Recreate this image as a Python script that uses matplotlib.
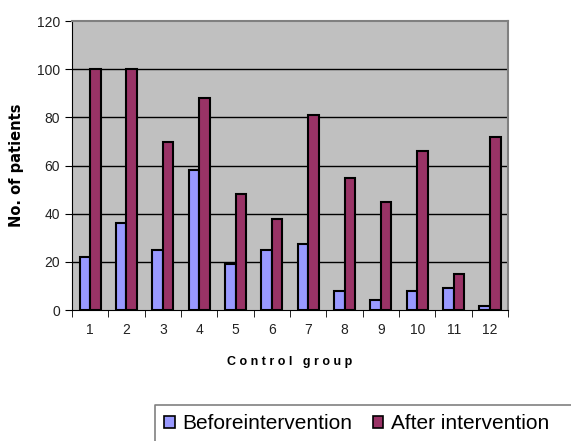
import numpy as np
import matplotlib.pyplot as plt
from matplotlib.patches import Patch
from matplotlib.lines import Line2D

plt.rcParams['font.family'] = ['Liberation Sans', 'DejaVu Sans']

# data
groups = ['1', '2', '3', '4', '5', '6', '7', '8', '9', '10', '11', '12']
before = [22, 36, 25, 58, 19, 25, 27.5, 8, 4, 8, 9, 1.5]
after = [100, 100, 70, 88, 48, 38, 81, 55, 45, 66, 15, 72]
yticks = [0, 20, 40, 60, 80, 100, 120]

c_before = '#9999FF'
c_after = '#993366'

fig = plt.figure(figsize=(5.71, 4.41), dpi=100)
ax = fig.add_axes([0.126, 0.297, 0.764, 0.655])
ax.set_facecolor('#C0C0C0')

x = np.arange(len(groups))
w = 0.29
ax.bar(x - w / 2, before, w, color=c_before, edgecolor='black', linewidth=1.5, zorder=3)
ax.bar(x + w / 2, after, w, color=c_after, edgecolor='black', linewidth=1.5, zorder=3)

ax.set_xlim(-0.5, len(groups) - 0.5)
ax.set_ylim(0, 120)
ax.set_yticks(yticks)
ax.set_yticklabels([str(v) for v in yticks], fontsize=10, color='#222222')
for v in yticks[1:-1]:
    ax.axhline(v, color='black', lw=1, zorder=1)

# category labels centred, ticks on the boundaries
ax.set_xticks(x)
ax.set_xticklabels(groups, fontsize=10, color='#222222')
ax.tick_params(axis='x', length=0, pad=9)
ax.set_xticks(np.arange(len(groups) + 1) - 0.5, minor=True)
ax.tick_params(axis='x', which='minor', length=5, direction='out', color='black')
ax.tick_params(axis='y', length=5, direction='out', color='black')

ax.spines['left'].set_color('black')
ax.spines['bottom'].set_color('black')
ax.spines['top'].set_color('#808080')
ax.spines['right'].set_color('#808080')
ax.spines['top'].set_linewidth(1.5)
ax.spines['right'].set_linewidth(1.5)

ax.set_xlabel('C o n t r o l   g r o u p', fontsize=9, fontweight='bold', labelpad=14)
ax.set_ylabel('No. of patients', fontsize=10.5, fontweight='bold', family='DejaVu Sans')
ax.yaxis.set_label_coords(-0.11, 0.5)

# legend box runs off the right and bottom edge: only top and left borders show
lx, ly = 155 / 571, 1 - 405 / 441
fig.add_artist(Line2D([lx, lx, 1.2], [-0.2, ly, ly], transform=fig.transFigure,
                      color='#808080', linewidth=1.2))
handles = [Patch(facecolor=c_before, edgecolor='black', linewidth=1.2, label='Beforeintervention'),
           Patch(facecolor=c_after, edgecolor='black', linewidth=1.2, label='After intervention')]
leg = fig.legend(handles=handles, loc='upper left', bbox_to_anchor=(lx, ly),
                 ncol=2, fontsize=15, frameon=False, borderaxespad=0,
                 handlelength=0.5, handleheight=0.5, handletextpad=0.35, columnspacing=1.0,
                 borderpad=0.45)

fig.savefig('out.png', dpi=100)
